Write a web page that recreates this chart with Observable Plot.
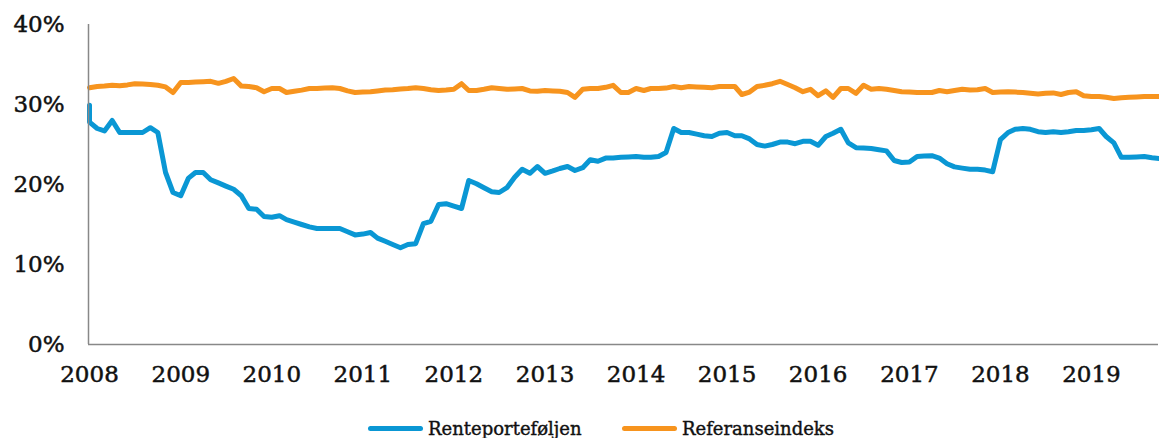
<!DOCTYPE html>
<html>
<head>
<meta charset="utf-8">
<script src="https://cdn.jsdelivr.net/npm/d3@7"></script>
<script src="https://cdn.jsdelivr.net/npm/@observablehq/plot@0.6"></script>
<style>
  html, body { margin: 0; padding: 0; background: #fff; }
  #chart { width: 1159px; }
  #chart svg text { stroke: #111; stroke-width: 0.5px; }
  .legend { position: relative; height: 38px; font-family: "DejaVu Serif", serif; font-size: 18px; color: #111; }
  .legend .item { position: absolute; top: 18px; display: flex; align-items: center; -webkit-text-stroke: 0.4px #111; }
  .legend .sw { width: 55px; height: 5px; border-radius: 3px; margin-right: 5px; }
</style>
</head>
<body>
<div id="chart"></div>
<script>
// Series names and colours
const seriesNames = ["Renteporteføljen", "Referanseindeks"];
const seriesColors = ["#0a97d4", "#f7941e"];

// Monthly observations, January 2008 to October 2019
const firstMonth = "2008-01-01";
const lastMonth = "2019-10-01";

// Renteporteføljen (%). The first reading is the starting value at the very start of 2008.
const blueStart = 29.9;
const blue = [
  27.8, 27.0, 26.7, 28.0, 26.5, 26.5, 26.5, 26.5, 27.1, 26.5, 21.5, 19.0,
  18.6, 20.8, 21.5, 21.5, 20.6, 20.2, 19.8, 19.4, 18.6, 17.0, 16.9, 16.0,
  15.9, 16.1, 15.6, 15.3, 15.0, 14.7, 14.5, 14.5, 14.5, 14.5, 14.1, 13.7,
  13.8, 14.0, 13.3, 12.9, 12.5, 12.1, 12.5, 12.6, 15.1, 15.4, 17.5, 17.6,
  17.3, 17.0, 20.5, 20.1, 19.6, 19.1, 19.0, 19.6, 20.9, 21.9, 21.4, 22.25,
  21.4, 21.7, 22.0, 22.25, 21.75, 22.1, 23.1, 22.9, 23.3, 23.3, 23.4, 23.45,
  23.5, 23.4, 23.4, 23.5, 24.0, 27.0, 26.5, 26.5, 26.3, 26.1, 26.0, 26.4,
  26.5, 26.1, 26.1, 25.7, 25.0, 24.8, 25.0, 25.3, 25.3, 25.1, 25.4, 25.4,
  24.9, 26.0, 26.4, 26.9, 25.2, 24.6, 24.55, 24.5, 24.35, 24.2, 23.0, 22.75,
  22.8, 23.5, 23.55, 23.6, 23.3, 22.6, 22.2, 22.05, 21.9, 21.9, 21.8, 21.6,
  25.6, 26.5, 26.9, 27.0, 26.9, 26.6, 26.5, 26.6, 26.5, 26.6, 26.75, 26.75,
  26.85, 27.0, 26.0, 25.2, 23.4, 23.4, 23.45, 23.5, 23.35, 23.25
];

// Referanseindeks (%)
const orange = [
  32.1, 32.25, 32.3, 32.4, 32.35, 32.45, 32.6, 32.55, 32.5, 32.4, 32.2, 31.5,
  32.75, 32.75, 32.8, 32.85, 32.9, 32.65, 32.9, 33.25, 32.3, 32.25, 32.1, 31.6,
  32.0, 32.0, 31.5, 31.65, 31.8, 32.0, 32.0, 32.05, 32.1, 32.0, 31.7, 31.5,
  31.55, 31.6, 31.7, 31.8, 31.85, 31.95, 32.0, 32.1, 32.0, 31.85, 31.75, 31.8,
  31.9, 32.6, 31.75, 31.75, 31.9, 32.1, 32.0, 31.9, 31.95, 32.0, 31.7, 31.65,
  31.75, 31.7, 31.65, 31.5, 30.9, 31.9, 32.0, 32.0, 32.15, 32.4, 31.5, 31.5,
  32.0, 31.75, 32.0, 32.0, 32.05, 32.25, 32.1, 32.25, 32.2, 32.15, 32.1, 32.25,
  32.25, 32.25, 31.25, 31.55, 32.25, 32.4, 32.6, 32.9, 32.5, 32.1, 31.6, 31.9,
  31.1, 31.7, 30.9, 32.0, 32.0, 31.4, 32.4, 31.9, 32.0, 31.9, 31.75, 31.6,
  31.55, 31.5, 31.5, 31.5, 31.75, 31.6, 31.75, 31.9, 31.8, 31.85, 32.0, 31.5,
  31.55, 31.6, 31.55, 31.5, 31.4, 31.3, 31.4, 31.45, 31.25, 31.5, 31.6, 31.1,
  31.0, 31.0, 30.9, 30.75, 30.85, 30.9, 30.95, 31.0, 31.0, 31.0
];

// Axis ticks
const yearTicks = [2008, 2009, 2010, 2011, 2012, 2013, 2014, 2015, 2016, 2017, 2018, 2019];
const yTicks = [0, 10, 20, 30, 40];

const start = new Date(firstMonth);
const end = new Date(lastMonth);
const months = d3.utcMonth.range(start, d3.utcMonth.offset(end, 1));

const blueData = [{date: months[0], v: blueStart}, ...months.map((d, i) => ({date: d, v: blue[i]}))];
const orangeData = months.map((d, i) => ({date: d, v: orange[i]}));

const font = '"DejaVu Serif", serif';

const chart = Plot.plot({
  width: 1159,
  height: 400,
  marginLeft: 89,
  marginRight: 0,
  marginTop: 24,
  marginBottom: 56,
  style: {fontFamily: font, fontSize: "23px", color: "#111", background: "#fff", overflow: "visible"},
  x: {type: "utc", domain: [start, end]},
  y: {domain: [0, 40]},
  marks: [
    Plot.lineY(orangeData, {x: "date", y: "v", stroke: seriesColors[1], strokeWidth: 5, strokeLinejoin: "round"}),
    Plot.lineY(blueData, {x: "date", y: "v", stroke: seriesColors[0], strokeWidth: 5, strokeLinejoin: "round"}),
    Plot.ruleX([start], {y1: 0, y2: 40, stroke: "#888", strokeWidth: 1.5, dx: -1}),
    Plot.ruleY([0], {stroke: "#888", strokeWidth: 1.5, dx: -1}),
    Plot.axisY(yTicks, {tickSize: 0, tickPadding: 25, tickFormat: d => d + "%", fontSize: 23, label: null}),
    Plot.axisX(yearTicks.map(y => new Date(Date.UTC(y, 0, 1))), {tickSize: 0, tickPadding: 21, tickFormat: d3.utcFormat("%Y"), fontSize: 23, label: null})
  ]
});
document.getElementById("chart").appendChild(chart);

const legendX = [368, 622];
const legend = document.createElement("div");
legend.className = "legend";
seriesNames.forEach((name, i) => {
  const item = document.createElement("div");
  item.className = "item";
  item.style.left = legendX[i] + "px";
  const sw = document.createElement("span");
  sw.className = "sw";
  sw.style.background = seriesColors[i];
  const label = document.createElement("span");
  label.textContent = name;
  item.appendChild(sw);
  item.appendChild(label);
  legend.appendChild(item);
});
document.getElementById("chart").appendChild(legend);
</script>
</body>
</html>
